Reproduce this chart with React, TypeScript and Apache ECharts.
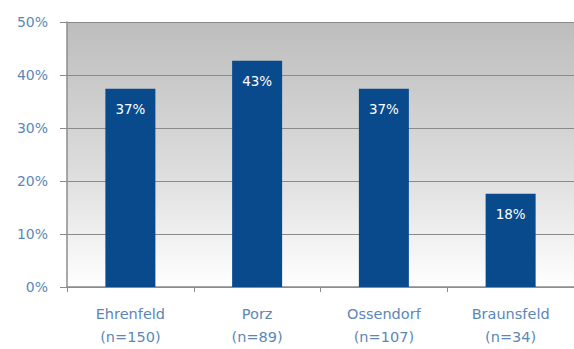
import React, { useEffect, useRef } from "react";
import * as echarts from "echarts";

const categories = ["Ehrenfeld\n(n=150)", "Porz\n(n=89)", "Ossendorf\n(n=107)", "Braunsfeld\n(n=34)"];
const values = [37.4, 42.7, 37.4, 17.6];
const yTicks = [0, 10, 20, 30, 40, 50];

export default function App() {
  const ref = useRef<HTMLDivElement>(null);
  useEffect(() => {
    if (!ref.current) return;
    const chart = echarts.init(ref.current, null, { renderer: "svg" });
    chart.setOption({
      animation: false,
      grid: {
        left: 67,
        right: 0,
        top: 22,
        bottom: 62,
        show: true,
        borderWidth: 0,
        backgroundColor: {
          type: "linear",
          x: 0,
          y: 0,
          x2: 0,
          y2: 1,
          colorStops: [
            { offset: 0, color: "#bdbdbd" },
            { offset: 0.55, color: "#dcdcdc" },
            { offset: 1, color: "#ffffff" },
          ],
        },
      },
      xAxis: {
        type: "category",
        data: categories,
        axisLine: { lineStyle: { color: "#8c8c8c", width: 1.5 } },
        axisTick: { show: true, length: 5, alignWithLabel: false, lineStyle: { color: "#8c8c8c" } },
        axisLabel: {
          color: "#5b87b8",
          fontFamily: "DejaVu Sans",
          fontSize: 14.5,
          lineHeight: 23,
          margin: 15,
        },
      },
      yAxis: {
        type: "value",
        min: yTicks[0],
        max: yTicks[yTicks.length - 1],
        interval: 10,
        axisLine: { show: true, lineStyle: { color: "#8c8c8c", width: 1.5 } },
        axisTick: { show: true, length: 7, lineStyle: { color: "#8c8c8c" } },
        axisLabel: {
          color: "#5b87b8",
          fontFamily: "DejaVu Sans",
          fontSize: 14,
          margin: 19,
          formatter: (v: number) => `${v}%`,
        },
        splitLine: { show: true, lineStyle: { color: "#8a8a8a", width: 1 } },
      },
      series: [
        {
          type: "bar",
          data: values,
          barWidth: 50,
          itemStyle: { color: "#084a8c" },
          label: {
            show: true,
            position: "insideTop",
            distance: 13,
            color: "#ffffff",
            fontFamily: "DejaVu Sans",
            fontSize: 13.5,
            formatter: (p: any) => `${Math.round(p.value)}%`,
          },
        },
      ],
    });
    return () => chart.dispose();
  }, []);
  return <div ref={ref} style={{ width: 574, height: 349, position: "absolute", left: 0, top: 0, background: "#fff" }} />;
}
